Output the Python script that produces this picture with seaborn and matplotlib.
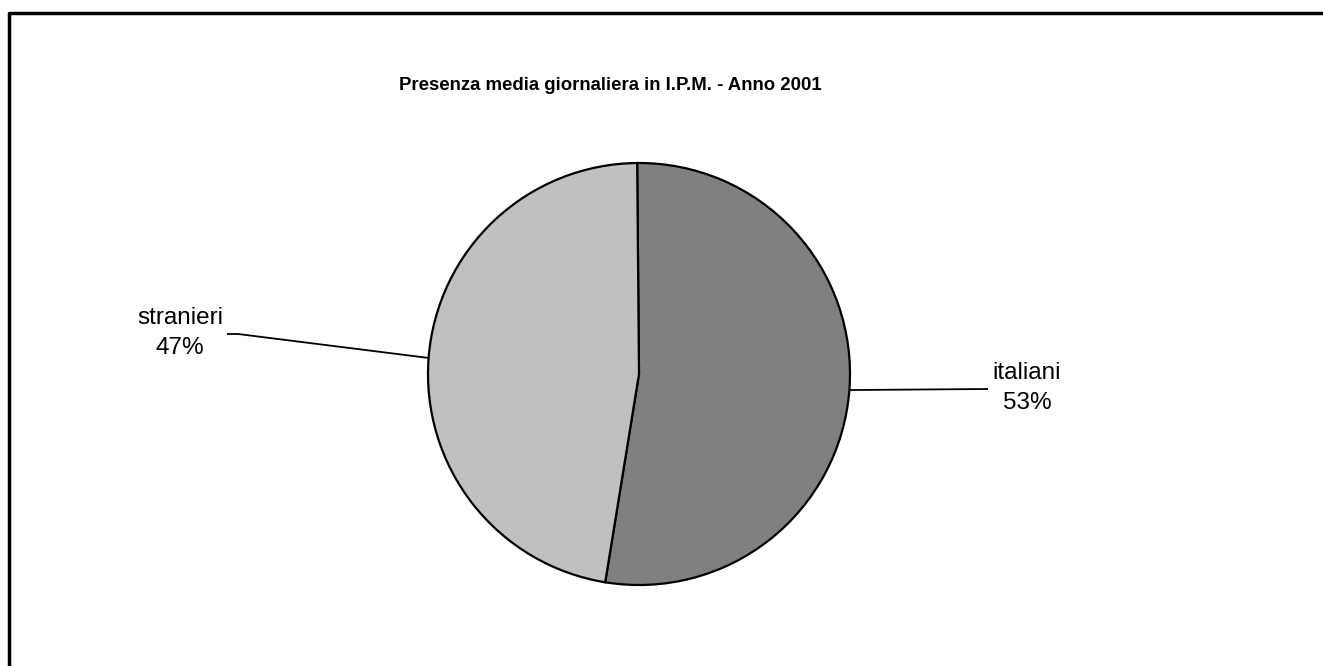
import numpy as np
import matplotlib
matplotlib.use("Agg")
import matplotlib.pyplot as plt
import seaborn as sns

categories = ["italiani", "stranieri"]
values = [52.7, 47.3]
pct_labels = ["53%", "47%"]
colors = ["#808080", "#c0c0c0"]
title = "Presenza media giornaliera in I.P.M. - Anno 2001"

sns.set_style("white")
plt.rcParams['font.family'] = ['Liberation Sans', 'DejaVu Sans']

W, H = 1323, 666
fig = plt.figure(figsize=(W / 100, H / 100), dpi=100)
ax = fig.add_axes([0, 0, 1, 1])
cx, cy, R = 639, 374, 211

def px(x, y):
    return ((x - cx) / R, (cy - y) / R)

wedges, _ = ax.pie(values, colors=colors, startangle=90.5, counterclock=False,
                   radius=1, center=(0, 0), frame=True,
                   wedgeprops=dict(edgecolor='black', linewidth=1.6))
ax.set_xlim(-cx / R, (W - cx) / R)
ax.set_ylim(-(H - cy) / R, cy / R)
ax.set_aspect('equal')
ax.axis('off')

# labels and leader lines
label_pos = [(1027, 388), (180, 333)]
line_end = [[(988, 389)], [(238, 334), (227, 334)]]
for w, cat, pl, lp, le in zip(wedges, categories, pct_labels, label_pos, line_end):
    ang = np.deg2rad((w.theta1 + w.theta2) / 2)
    ax0, ay0 = np.cos(ang), np.sin(ang)
    pts = [(ax0, ay0)] + [px(*p) for p in le]
    xs, ys = zip(*pts)
    ax.plot(xs, ys, color='black', lw=1.3, solid_capstyle='butt')
    tx, ty = px(*lp)
    t = ax.text(tx, ty, f"{cat}\n{pl}", ha='center', va='center', fontsize=17.5,
                linespacing=1.42, color='black', multialignment='center')

tx, ty = px(610, 85)
ax.text(tx, ty, title, ha='center', va='center', fontsize=13.4,
        fontweight='bold', color='black')

# outer frame (top and left edges visible)
ax.plot([px(9, 700)[0], px(9, 13.5)[0], px(1400, 13.5)[0]],
        [px(9, 700)[1], px(9, 13.5)[1], px(1400, 13.5)[1]],
        color='black', lw=2.5, clip_on=False)

fig.savefig("out.png", dpi=100)
